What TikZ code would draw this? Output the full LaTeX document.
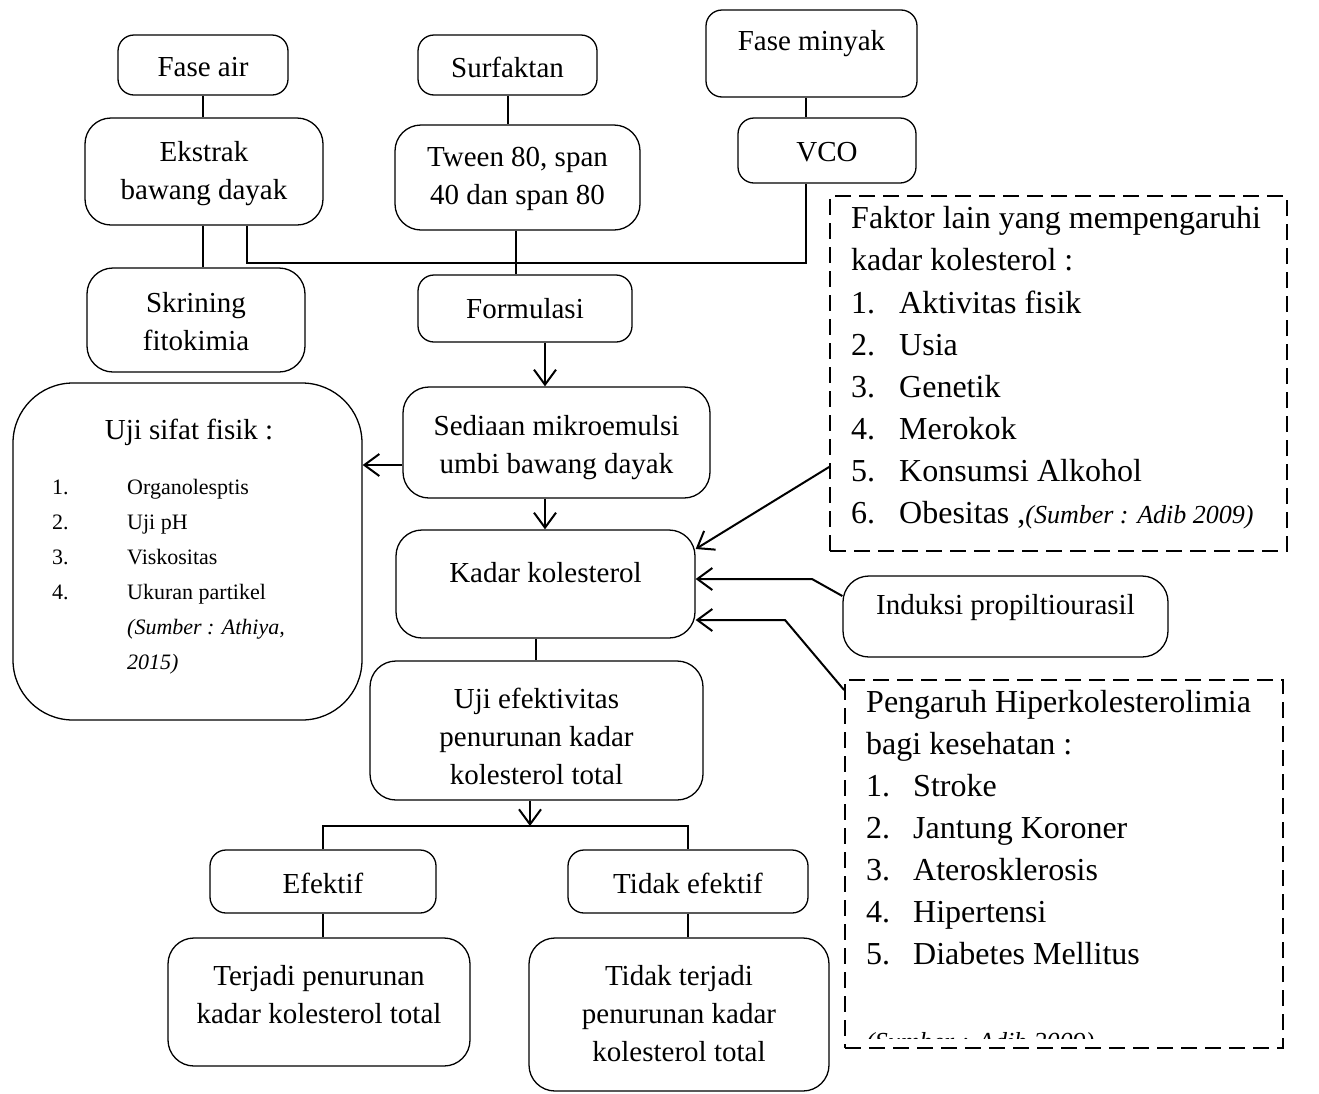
\documentclass[tikz,border=0pt]{standalone}
\usepackage{fontspec}
\setmainfont{Liberation Serif}
\usetikzlibrary{arrows.meta}
\newcommand\mfs{\fontsize{29}{38}\selectfont}
\newcommand\dfs{\fontsize{32}{42}\selectfont}
\newcommand\lfs{\fontsize{22}{35}\selectfont}
\newcommand\srcfs{\fontsize{26}{30}\selectfont\itshape}
\begin{document}
\begin{tikzpicture}[x=1pt,y=-1pt,
  box/.style={draw, line width=1.3pt, rounded corners=16pt, inner sep=0pt, align=center, font=\mfs},
  bigbox/.style={box, rounded corners=26pt},
  txt/.style={inner sep=0pt, align=center, font=\mfs},
  dbox/.style={draw, line width=1.8pt, dash pattern=on 16pt off 8pt, inner sep=0pt},
  ln/.style={anchor=west, inner sep=0pt, text height=0.7em, text depth=0.2em},
  con/.style={line width=2pt},
  arr/.style={line width=2pt, -{Straight Barb[length=15pt,width=22pt,line width=2pt]}}]
\useasboundingbox[fill=white] (0,0) rectangle (1319,1093);

% top row
\node[box, minimum width=170pt, minimum height=60pt] (fa) at (203,65) {};
\node[txt] (fat) at (203,67) {Fase air};
\node[box, minimum width=179pt, minimum height=60pt] (sf) at (507.5,65) {};
\node[txt] (sft) at (507.5,67) {Surfaktan};
\node[box, minimum width=211pt, minimum height=87pt] (fm) at (811.5,53.5) {};
\node[txt] (fmt) at (811.5,44) {Fase minyak};

% second row
\node[bigbox, minimum width=238pt, minimum height=107pt] (ek) at (204,171.5) {};
\node[txt] (ekt) at (204,174) {Ekstrak\\bawang dayak};
\node[bigbox, minimum width=245pt, minimum height=105pt] (tw) at (517.5,177.5) {};
\node[txt] (twt) at (517.5,179) {Tween 80, span\\40 dan span 80};
\node[box, minimum width=178pt, minimum height=65pt] (vco) at (827,150.5) {};
\node[txt] (vcot) at (827,152) {VCO};

% third row
\node[bigbox, minimum width=218pt, minimum height=104pt] (sk) at (196,320) {};
\node[txt] (skt) at (196,322) {Skrining\\fitokimia};
\node[box, minimum width=214pt, minimum height=67pt] (fo) at (525,308.5) {};
\node[txt] (fot) at (525,309) {Formulasi};

% middle
\node[bigbox, minimum width=307pt, minimum height=111pt] (sd) at (556.5,442.5) {};
\node[txt] (sdt) at (556.5,448) {Sediaan mikroemulsi\\umbi bawang dayak};
\node[bigbox, minimum width=299pt, minimum height=108pt] (kd) at (545.5,584) {};
\node[txt] (kdt) at (545.5,573) {Kadar kolesterol};
\node[bigbox, minimum width=325pt, minimum height=81pt] (ip) at (1005.5,616.5) {};
\node[txt] (ipt) at (1005.5,608) {Induksi propiltiourasil};
\node[draw, line width=1.3pt, rounded corners=60pt, minimum width=349pt, minimum height=337pt, inner sep=0pt] (us) at (187.5,551.5) {};
\node[bigbox, minimum width=333pt, minimum height=139pt] (ue) at (536.5,730.5) {};
\node[txt] (uet) at (536.5,736) {Uji efektivitas\\penurunan kadar\\kolesterol total};

% bottom
\node[box, minimum width=226pt, minimum height=63pt] (ef) at (323,881.5) {};
\node[txt] (eft) at (323,883) {Efektif};
\node[box, minimum width=240pt, minimum height=63pt] (te) at (688,881.5) {};
\node[txt] (tet) at (688,883) {Tidak efektif};
\node[bigbox, minimum width=302pt, minimum height=128pt] (tp) at (319,1002) {};
\node[txt] (tpt) at (319,995) {Terjadi penurunan\\kadar kolesterol total};
\node[bigbox, minimum width=300pt, minimum height=153pt] (tt) at (679,1014.5) {};
\node[txt] (ttt) at (679,1014) {Tidak terjadi\\penurunan kadar\\kolesterol total};

% left list
\node[txt] (ust) at (189,432) {Uji sifat fisik :};
\foreach \t [count=\i] in {Organolesptis, Uji pH, Viskositas, Ukuran partikel}{
  \node[ln, font=\lfs] (un\i) at (52,{457+35*\i}) {\i.};
  \node[ln, font=\lfs] (ui\i) at (127,{457+35*\i}) {\t};
}
\node[ln, font=\lfs\itshape] (us1) at (127,632) {(Sumber : Athiya,};
\node[ln, font=\lfs\itshape] (us2) at (127,667) {2015)};

% dashed box 1
\node[dbox, minimum width=457pt, minimum height=355pt] (d1) at (1058.5,373.5) {};
\node[ln, font=\dfs] (k0) at (851,226) {Faktor lain yang mempengaruhi};
\node[ln, font=\dfs] (k00) at (851,268) {kadar kolesterol :};
\foreach \t [count=\i] in {Aktivitas fisik, Usia, Genetik, Merokok, Konsumsi Alkohol}{
  \node[ln, font=\dfs] (kn\i) at (851,{269+42*\i}) {\i.};
  \node[ln, font=\dfs] (ki\i) at (899,{269+42*\i}) {\t};
}
\node[ln, font=\dfs] (kn6) at (851,521) {6.};
\node[ln, font=\dfs] (ki6) at (899,521) {Obesitas ,{\srcfs\fontsize{26}{30}\selectfont(Sumber : Adib 2009)}};

% dashed box 2
\node[dbox, minimum width=438pt, minimum height=368pt] (d2) at (1064,864) {};
\node[ln, font=\dfs] (p0) at (866,710) {Pengaruh Hiperkolesterolimia};
\node[ln, font=\dfs] (p00) at (866,752) {bagi kesehatan :};
\foreach \t [count=\i] in {Stroke, Jantung Koroner, Aterosklerosis, Hipertensi, Diabetes Mellitus}{
  \node[ln, font=\dfs] (pn\i) at (866,{752+42*\i}) {\i.};
  \node[ln, font=\dfs] (pi\i) at (913,{752+42*\i}) {\t};
}
\begin{scope}
  \clip (848,1000) rectangle (1280,1038);
  \node[anchor=base west, inner sep=0pt, font=\srcfs] (psrc) at (866,1050) {(Sumber : Adib 2009)};
\end{scope}

% connectors
\coordinate (j1) at (247,263);
\coordinate (j2) at (806,263);
\coordinate (sp) at (530,826);
\coordinate (sl) at (323,826);
\coordinate (sr) at (688,826);
\coordinate (b1) at (812,579);
\coordinate (b2) at (785,620);

\draw[con] (fa.south) -- (fa.south |- ek.north);
\draw[con] (sf.south) -- (sf.south |- tw.north);
\draw[con] (806,0 |- fm.south) -- (806,0 |- vco.north);
\draw[con] (203,0 |- ek.south) -- (203,0 |- sk.north);
\draw[con] (247,0 |- ek.south) -- (j1) -- (j2) -- (806,0 |- vco.south);
\draw[con] (516,0 |- tw.south) -- (516,0 |- fo.north);
\draw[arr] (545,0 |- fo.south) -- (545,0 |- sd.north);
\draw[arr] (545,0 |- sd.south) -- (545,0 |- kd.north);
\draw[arr] (sd.west |- 0,465) -- (us.east |- 0,465);
\draw[con] (536,0 |- kd.south) -- (536,0 |- ue.north);
\draw[arr] (530,0 |- ue.south) -- (sp);
\draw[con] (ef.north) -- (sl) -- (sr) -- (te.north);
\draw[con] (ef.south) -- (ef.south |- tp.north);
\draw[con] (te.south) -- (te.south |- tt.north);
\draw[arr] (d1.west |- 0,467) -- (kd.east |- 0,549);
\draw[arr] (ip.west |- 0,596) -- (b1) -- (kd.east |- b1);
\draw[arr] (d2.west |- 0,690) -- (b2) -- (kd.east |- b2);
\end{tikzpicture}
\end{document}
